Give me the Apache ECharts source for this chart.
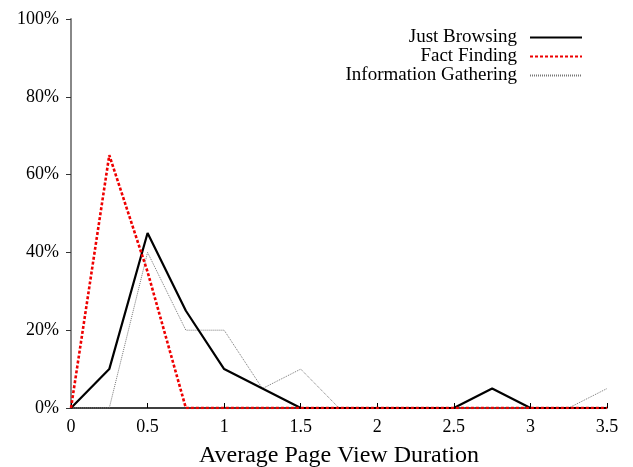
<!DOCTYPE html>
<html><head><meta charset="utf-8">
<script src="https://cdn.jsdelivr.net/npm/echarts@6/dist/echarts.min.js"></script>
<style>html,body{margin:0;padding:0;background:#fff}#c{width:633px;height:467px}</style>
</head><body><div id="c"></div>
<script>
const xValues = [0, 0.25, 0.5, 0.75, 1, 1.25, 1.5, 1.75, 2, 2.25, 2.5, 2.75, 3, 3.25, 3.5];
const justBrowsing = [0, 10, 45, 25, 10, 5, 0, 0, 0, 0, 0, 5, 0, 0, 0];
const factFinding = [0, 65, 35, 0, 0, 0, 0, 0, 0, 0, 0, 0, 0, 0, 0];
const infoGathering = [0, 0, 40, 20, 20, 5, 10, 0, 0, 0, 0, 0, 0, 0, 5];
const seriesNames = ['Just Browsing', 'Fact Finding', 'Information Gathering'];
const xTicks = ['0', '0.5', '1', '1.5', '2', '2.5', '3', '3.5'];

const pairs = arr => xValues.map((x, i) => [x, arr[i]]);
const font = 'Liberation Serif';
const chart = echarts.init(document.getElementById('c'));
chart.setOption({
  animation: false,
  grid: { left: 71, right: 26, top: 19, bottom: 59, containLabel: false, outerBoundsMode: 'none' },
  legend: {
    orient: 'vertical', right: 45, top: 23, align: 'right',
    itemWidth: 52, itemHeight: 10, itemGap: 0,
    itemStyle: { opacity: 0 },
    textStyle: { fontFamily: font, fontSize: 19, color: '#000', padding: [0, 8, 0, 0] },
    data: seriesNames
  },
  xAxis: {
    type: 'value', min: 0, max: 3.5, interval: 0.5,
    name: 'Average Page View Duration', nameLocation: 'middle', nameGap: 36,
    nameTextStyle: { fontFamily: font, fontSize: 24, color: '#000' },
    axisLine: { lineStyle: { color: '#000', width: 1.5 } },
    axisTick: { inside: true, length: 5, lineStyle: { color: '#000' } },
    axisLabel: { fontFamily: font, fontSize: 18, color: '#000', margin: 10,
      formatter: v => { const s = String(v); return xTicks.includes(s) ? s : ''; } },
    splitLine: { show: false }
  },
  yAxis: {
    type: 'value', min: 0, max: 100, interval: 20,
    axisLine: { show: true, lineStyle: { color: '#888', width: 2 } },
    axisTick: { show: true, inside: false, length: 5, lineStyle: { color: '#333' } },
    axisLabel: { fontFamily: font, fontSize: 18, color: '#000', margin: 12, formatter: '{value}%' },
    splitLine: { show: false }
  },
  series: [
    { name: seriesNames[0], type: 'line', symbol: 'none', data: pairs(justBrowsing),
      lineStyle: { color: '#000', width: 2.2, type: 'solid' }, itemStyle: { color: '#000' }, z: 3 },
    { name: seriesNames[1], type: 'line', symbol: 'none', data: pairs(factFinding),
      lineStyle: { color: '#ee0000', width: 2.6, type: [3, 2] }, itemStyle: { color: '#ee0000' }, z: 4 },
    { name: seriesNames[2], type: 'line', symbol: 'none', data: pairs(infoGathering),
      lineStyle: { color: '#777', width: 1, type: [1, 1] }, itemStyle: { color: '#777' }, z: 2 }
  ]
});
</script></body></html>
